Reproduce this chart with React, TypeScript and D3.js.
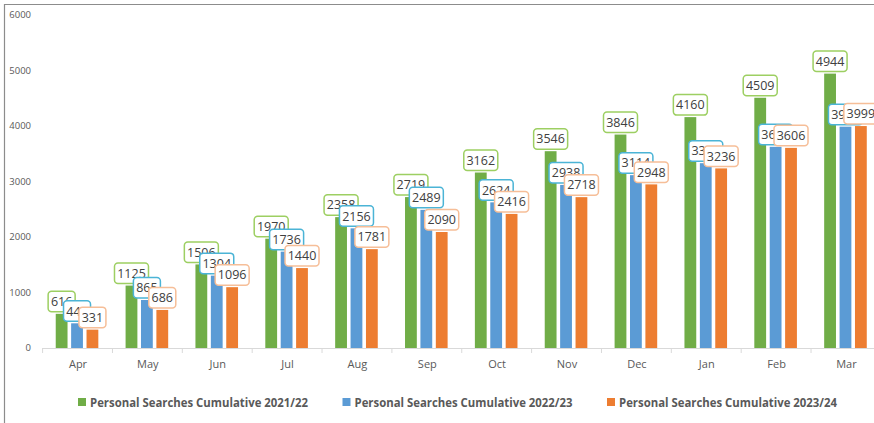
import React from "react";
import * as d3 from "d3";

const months = ["Apr", "May", "Jun", "Jul", "Aug", "Sep", "Oct", "Nov", "Dec", "Jan", "Feb", "Mar"];
const series2021 = [616, 1125, 1506, 1970, 2358, 2719, 3162, 3546, 3846, 4160, 4509, 4944];
const series2022 = [445, 865, 1304, 1736, 2156, 2489, 2624, 2938, 3114, 3330, 3625, 3988];
const series2023 = [331, 686, 1096, 1440, 1781, 2090, 2416, 2718, 2948, 3236, 3606, 3999];
const seriesNames = [
  "Personal Searches Cumulative 2021/22",
  "Personal Searches Cumulative 2022/23",
  "Personal Searches Cumulative 2023/24",
];
const yTicks = [0, 1000, 2000, 3000, 4000, 5000, 6000];

const barColors = ["#70AD47", "#5B9BD5", "#ED7D31"];
const labelStroke = ["#9DCF62", "#4BB4D6", "#F6BE98"];

export default function App() {
  const W = 874;
  const H = 423;
  const x0 = d3.scaleBand<string>().domain(months).range([42.1, 880.4]).padding(0);
  const y = d3.scaleLinear().domain([0, 6000]).range([348, 15]);
  const data = [series2021, series2022, series2023];
  const offset = d3.scaleLinear().domain([0, 2]).range([-15.4, 15.4]);
  const barW = 11.8;
  const font = "'Open Sans', 'Noto Sans', sans-serif";
  const legendX = [78, 342.5, 607];

  return (
    <svg
      width={W}
      height={H}
      style={{ position: "absolute", left: 0, top: 0, background: "#fff" }}
      fontFamily={font}
    >
      {/* frame */}
      <line x1={4.5} y1={4} x2={4.5} y2={H} stroke="#8c8c8c" strokeWidth={1.2} />
      <line x1={4} y1={4.5} x2={W} y2={4.5} stroke="#8c8c8c" strokeWidth={1.2} />

      {/* y tick labels */}
      {yTicks.map((t) => (
        <text key={t} x={31} y={y(t)} dy="0.35em" textAnchor="end" fontSize={9.5} fill="#595959">
          {t}
        </text>
      ))}

      {/* bars */}
      {data.map((s, si) =>
        s.map((v, i) => {
          const cx = (x0(months[i]) as number) + x0.bandwidth() / 2 + offset(si);
          return (
            <rect
              key={`b${si}-${i}`}
              x={cx - barW / 2}
              y={y(v)}
              width={barW}
              height={y(0) - y(v)}
              fill={barColors[si]}
            />
          );
        })
      )}

      {/* x axis */}
      <line x1={42} y1={348.5} x2={W} y2={348.5} stroke="#D9D9D9" strokeWidth={1} />
      {months.map((m, i) => (
        <line
          key={`t${m}`}
          x1={(x0(m) as number) + 0.5}
          x2={(x0(m) as number) + 0.5}
          y1={348}
          y2={353}
          stroke="#D9D9D9"
        />
      ))}
      {months.map((m) => (
        <text
          key={`l${m}`}
          x={(x0(m) as number) + x0.bandwidth() / 2 + 1}
          y={364}
          dy="0.35em"
          textAnchor="middle"
          fontSize={11}
          fill="#595959"
        >
          {m}
        </text>
      ))}

      {/* data labels */}
      {data.map((s, si) =>
        s.map((v, i) => {
          const cx = (x0(months[i]) as number) + x0.bandwidth() / 2 + offset(si);
          const txt = String(v);
          const bw = txt.length * 7 + 6;
          const bh = 20.5;
          const by = y(v) - 2 - bh;
          return (
            <g key={`d${si}-${i}`}>
              <rect
                x={cx - bw / 2}
                y={by}
                width={bw}
                height={bh}
                rx={3.5}
                fill="#fff"
                stroke={labelStroke[si]}
                strokeWidth={1.5}
              />
              <text
                x={cx}
                y={by + bh / 2}
                dy="0.36em"
                textAnchor="middle"
                fontSize={12.5}
                fill="#404040"
              >
                {txt}
              </text>
            </g>
          );
        })
      )}

      {/* legend */}
      {seriesNames.map((n, i) => (
        <g key={n}>
          <rect x={legendX[i]} y={398} width={8} height={8} fill={barColors[i]} />
          <text
            x={legendX[i] + 12}
            y={402}
            dy="0.36em"
            fontSize={12.5}
            fontWeight="bold"
            fill="#595959"
            textLength={218}
            lengthAdjust="spacingAndGlyphs"
          >
            {n}
          </text>
        </g>
      ))}
    </svg>
  );
}
